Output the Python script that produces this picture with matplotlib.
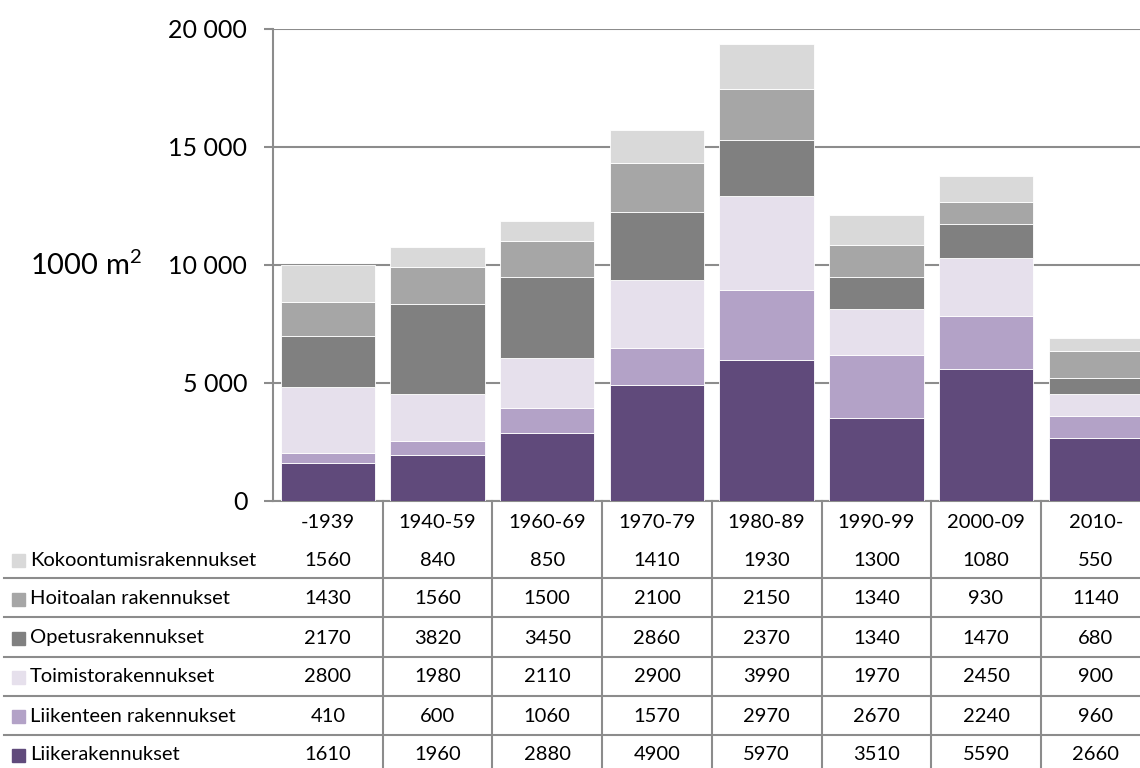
import matplotlib.pyplot as plt
import matplotlib.transforms as mtransforms
from matplotlib.lines import Line2D
from matplotlib.patches import Rectangle
from matplotlib.ticker import FuncFormatter

plt.rcParams['font.family'] = ['Lato', 'DejaVu Sans']
plt.rcParams['mathtext.default'] = 'regular'

# Building floor area by construction period (1000 m2)
periods = ["-1939", "1940-59", "1960-69", "1970-79", "1980-89", "1990-99", "2000-09", "2010-"]
liike = [1610, 1960, 2880, 4900, 5970, 3510, 5590, 2660]
liikenne = [410, 600, 1060, 1570, 2970, 2670, 2240, 960]
toimisto = [2800, 1980, 2110, 2900, 3990, 1970, 2450, 900]
opetus = [2170, 3820, 3450, 2860, 2370, 1340, 1470, 680]
hoito = [1430, 1560, 1500, 2100, 2150, 1340, 930, 1140]
kokoontumis = [1560, 840, 850, 1410, 1930, 1300, 1080, 550]

# bottom-to-top stacking order
series = [
    ("Liikerakennukset", liike, "#604A7B"),
    ("Liikenteen rakennukset", liikenne, "#B3A2C7"),
    ("Toimistorakennukset", toimisto, "#E6E0EC"),
    ("Opetusrakennukset", opetus, "#808080"),
    ("Hoitoalan rakennukset", hoito, "#A6A6A6"),
    ("Kokoontumisrakennukset", kokoontumis, "#D9D9D9"),
]

W, H = 1140, 768
fig = plt.figure(figsize=(W / 100, H / 100), dpi=100)
ax = fig.add_axes([273 / W, 1 - 501 / H, 877.6 / W, 472 / H])

grid_col = "#8C8C8C"
x = list(range(len(periods)))
bottom = [0] * len(periods)
for name, vals, col in series:
    ax.bar(x, vals, 0.86, bottom=bottom, color=col, edgecolor="white", linewidth=0.6, zorder=3)
    bottom = [b + v for b, v in zip(bottom, vals)]

ax.set_xlim(-0.5, len(periods) - 0.5)
ax.set_ylim(0, 20000)
ax.set_yticks([0, 5000, 10000, 15000, 20000])
ax.yaxis.set_major_formatter(FuncFormatter(lambda v, p: f"{int(v):,}".replace(",", " ")))
ax.yaxis.grid(True, color=grid_col, linewidth=1.5, zorder=0)
ax.set_xticks([])
ax.tick_params(axis="y", length=6.5, width=1.5, color=grid_col, pad=12, labelsize=18)
for s in ["top", "right"]:
    ax.spines[s].set_visible(False)
for s in ["left", "bottom"]:
    ax.spines[s].set_color(grid_col)
    ax.spines[s].set_linewidth(1.5)

fig.text(30 / W, 1 - 265 / H, "1000 m$^{2}$", fontsize=21, va="center", ha="left")

# data table below the chart
trans = mtransforms.blended_transform_factory(ax.transData, fig.transFigure)
header_y = 522
row_y = [560, 599, 638, 677, 716, 755]
sep_y = [578, 617, 657, 696, 735]
fs = 14.5

for i, p in enumerate(periods):
    ax.text(i, 1 - header_y / H, p, transform=trans, ha="center", va="center",
            fontsize=fs, clip_on=False)

for r, (name, vals, col) in enumerate(series[::-1]):
    yf = 1 - row_y[r] / H
    fig.patches.append(Rectangle((12 / W, yf - 6.5 / H), 13 / W, 13 / H,
                                 transform=fig.transFigure, color=col, figure=fig))
    fig.text(30 / W, yf, name, fontsize=fs, va="center", ha="left")
    for i, v in enumerate(vals):
        ax.text(i, yf, str(v), transform=trans, ha="center", va="center",
                fontsize=fs, clip_on=False)

for yy in sep_y:
    fig.add_artist(Line2D([4 / W, 1.0], [1 - yy / H] * 2, color=grid_col, linewidth=1.5,
                          transform=fig.transFigure))
for i in range(len(periods) - 1):
    fig.add_artist(Line2D([i + 0.5] * 2, [1 - 501 / H, 0], color=grid_col, linewidth=1.5,
                          transform=trans))

fig.savefig("out.png", dpi=100)
plt.close(fig)
